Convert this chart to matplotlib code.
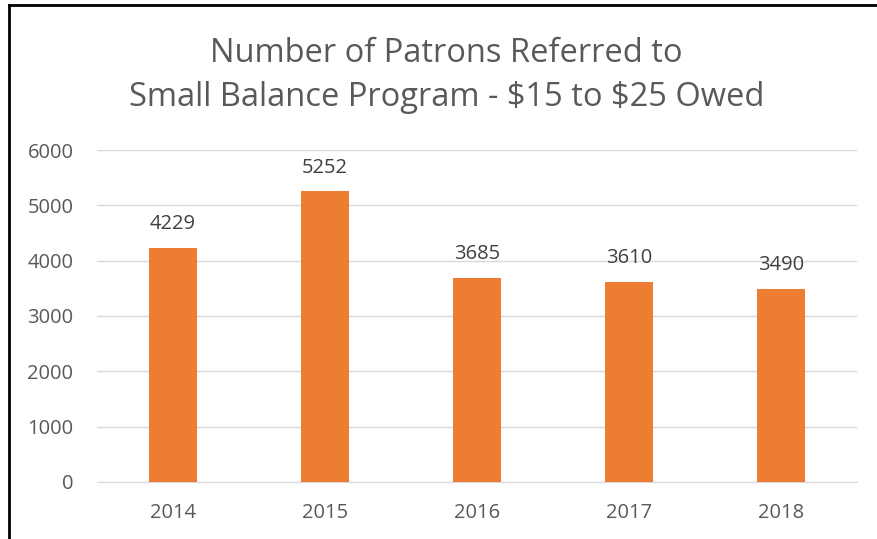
import matplotlib
matplotlib.use("Agg")
import matplotlib.pyplot as plt
from matplotlib.lines import Line2D

years = ["2014", "2015", "2016", "2017", "2018"]
patrons = [4229, 5252, 3685, 3610, 3490]
yticks = [0, 1000, 2000, 3000, 4000, 5000, 6000]

plt.rcParams["font.family"] = ["Open Sans", "DejaVu Sans"]

fig = plt.figure(figsize=(8.77, 5.39), dpi=100)
ax = fig.add_axes([0.1106, 0.1058, 0.8666, 0.6159])

x = range(len(years))
ax.bar(x, patrons, width=0.316, color="#ED7D31", zorder=3)
for xi, v in zip(x, patrons):
    ax.annotate(str(v), (xi, v), xytext=(0, 10), textcoords="offset points",
                ha="center", va="bottom", fontsize=14.5, color="#404040")

ax.set_xlim(-0.5, len(years) - 0.5)
ax.set_ylim(0, 6000)
ax.set_yticks(yticks)
ax.set_xticks(list(x))
ax.set_xticklabels(years)
ax.grid(axis="y", color="#D9D9D9", lw=1, zorder=0)
for s in ["top", "right", "left"]:
    ax.spines[s].set_visible(False)
ax.spines["bottom"].set_color("#D9D9D9")
ax.tick_params(axis="both", length=0, labelsize=14.5, labelcolor="#595959")
ax.tick_params(axis="x", pad=15)
ax.tick_params(axis="y", pad=17)

fig.text(0.509, 0.885, "Number of Patrons Referred to", ha="center", va="baseline",
         fontsize=23.5, color="#595959")
fig.text(0.509, 0.803, "Small Balance Program - \\$15 to \\$25 Owed", ha="center", va="baseline",
         fontsize=23.5, color="#595959")

# frame lines at left and top
fig.add_artist(Line2D([0.0103, 0.0103], [0, 0.991], transform=fig.transFigure, color="black", lw=2))
fig.add_artist(Line2D([0.0103, 1], [0.991, 0.991], transform=fig.transFigure, color="black", lw=2))

fig.savefig("out.png", dpi=100)
